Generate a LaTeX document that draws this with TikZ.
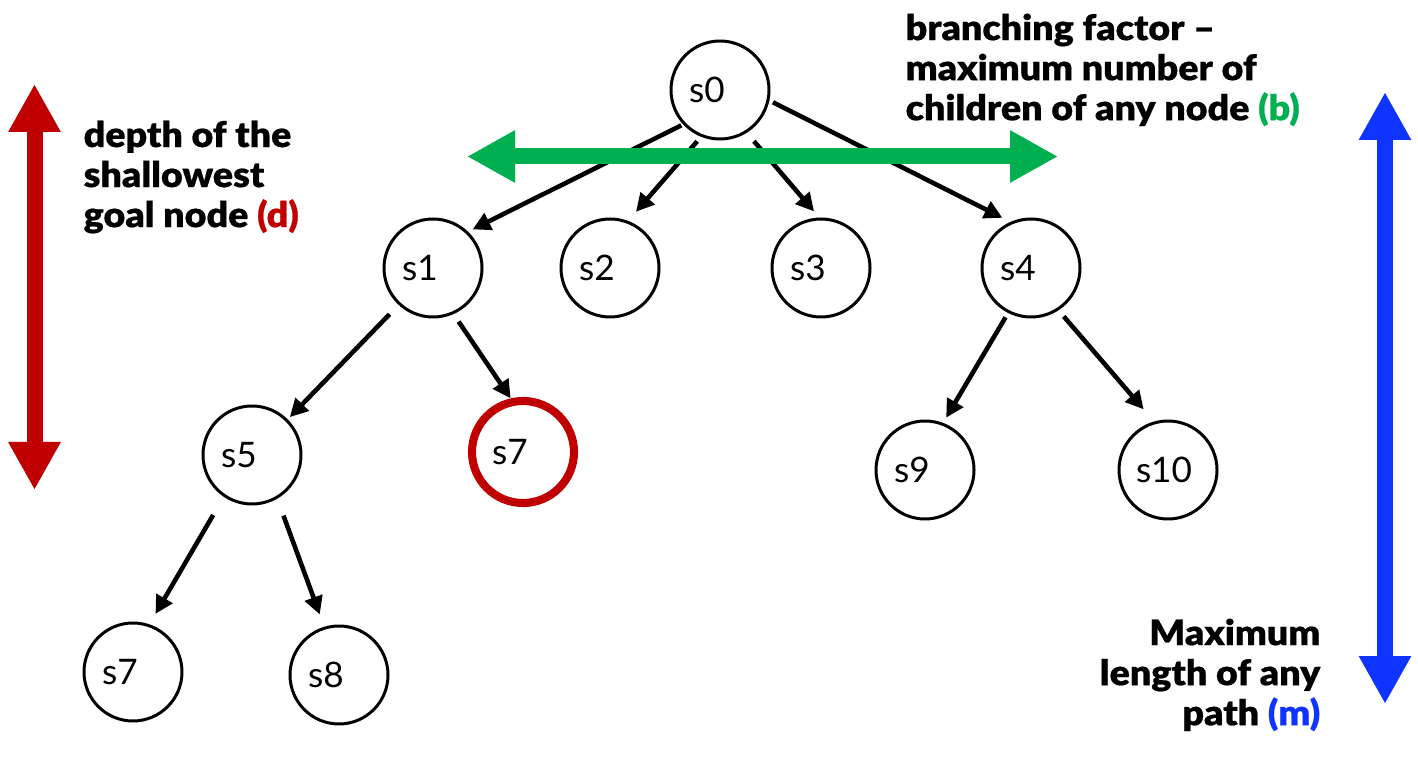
\documentclass[tikz,border=0pt]{standalone}
\usepackage{fontspec}
\setmainfont{Lato}[BoldFont={Lato Black},BoldFeatures={FakeStretch=1.07,FakeBold=0.6}]
\usepackage{tikz}
\usetikzlibrary{arrows.meta}
\definecolor{dred}{RGB}{192,0,0}
\definecolor{bgreen}{RGB}{0,176,80}
\definecolor{mblue}{RGB}{16,52,255}
\tikzset{
  state/.style={circle,draw=black,line width=0.85pt,minimum size=9.8mm,inner sep=0pt,
    font=\fontsize{10}{12}\selectfont,execute at end node={\kern2.6mm}},
  goal/.style={state,draw=dred,line width=2.3pt,minimum size=10.2mm},
  edge/.style={-{Triangle[length=1.8mm,width=1.8mm]},line width=1.3pt},
  % thick double-headed measuring arrows
  measure/.style={{Triangle[length=4.8mm,width=4.9mm]}-{Triangle[length=4.8mm,width=4.9mm]},line width=1.6mm},
  note/.style={font=\bfseries\fontsize{10}{11.4}\selectfont,inner sep=0pt},
}
\begin{document}
\begin{tikzpicture}
\useasboundingbox (0,0) rectangle (14.18,-7.57);

% --- Tree ---
\node[state] (s0) at (7.20,-0.90) {s0};
\node[state] (s1) at (4.33,-2.68) {s1};
\node[state] (s2) at (6.10,-2.68) {s2};
\node[state] (s3) at (8.21,-2.68) {s3};
\node[state] (s4) at (10.31,-2.68) {s4};
\node[state] (s5) at (2.52,-4.55) {s5};
\node[goal]  (g7) at (5.23,-4.52) {s7};
\node[state] (s9) at (9.25,-4.70) {s9};
\node[state,execute at end node={\kern-1.8mm}] (s10) at (11.68,-4.70) {s10};
\node[state] (s7) at (1.33,-6.72) {s7};
\node[state] (s8) at (3.39,-6.75) {s8};

\draw[edge,shorten <=0.2mm,shorten >=0.5mm] (s0.223) -- (s1.46);
\draw[edge,shorten <=0.6mm,shorten >=1.2mm] (s0.248) -- (s2.69);
\draw[edge,shorten <=1.1mm,shorten >=0.8mm] (s0.302) -- (s3.92);
\draw[edge,shorten <=0.4mm,shorten >=0.9mm] (s0.348) -- (s4.114);
\draw[edge,shorten <=1.3mm,shorten >=0.3mm] (s1.227) -- (s5.45);
\draw[edge,shorten <=0.9mm] (s1.294) -- (g7.103);
\draw[edge,shorten <=0.5mm,shorten >=0.6mm] (s4.243) -- (s9.69);
\draw[edge,shorten <=0.8mm,shorten >=1.6mm] (s4.303) -- (s10.106);
\draw[edge,shorten <=2.1mm,shorten >=1.2mm] (s5.236) -- (s7.71);
\draw[edge,shorten <=1.8mm,shorten >=1.3mm] (s5.300) -- (s8.107);

% --- Measures ---
\coordinate (dtop) at (0.345,-0.84);
\coordinate (dbot) at (0.345,-4.90);
\coordinate (bleft) at (4.67,-1.565);
\coordinate (bright) at (10.58,-1.565);
\coordinate (mtop) at (13.85,-0.92);
\coordinate (mbot) at (13.85,-7.04);
\draw[measure,draw=dred,fill=dred] (dtop) -- (dbot);
\draw[measure,draw=bgreen,fill=bgreen] (bleft) -- (bright);
\draw[measure,draw=mblue,fill=mblue] (mtop) -- (mbot);

% Labels
\node[note,align=left,anchor=north west] (dlab) at (0.83,-1.20)
  {depth of the\\shallowest\\goal node \textcolor{dred}{(d)}};
\node[note,align=left,anchor=north west] (blab) at (9.05,-0.13)
  {branching factor --\\maximum number of\\children of any node \textcolor{bgreen}{(b)}};
\node[note,align=right,anchor=north east] (mlab) at (13.21,-6.18)
  {Maximum\\length of any\\path \textcolor{mblue}{(m)}};
\end{tikzpicture}
\end{document}
